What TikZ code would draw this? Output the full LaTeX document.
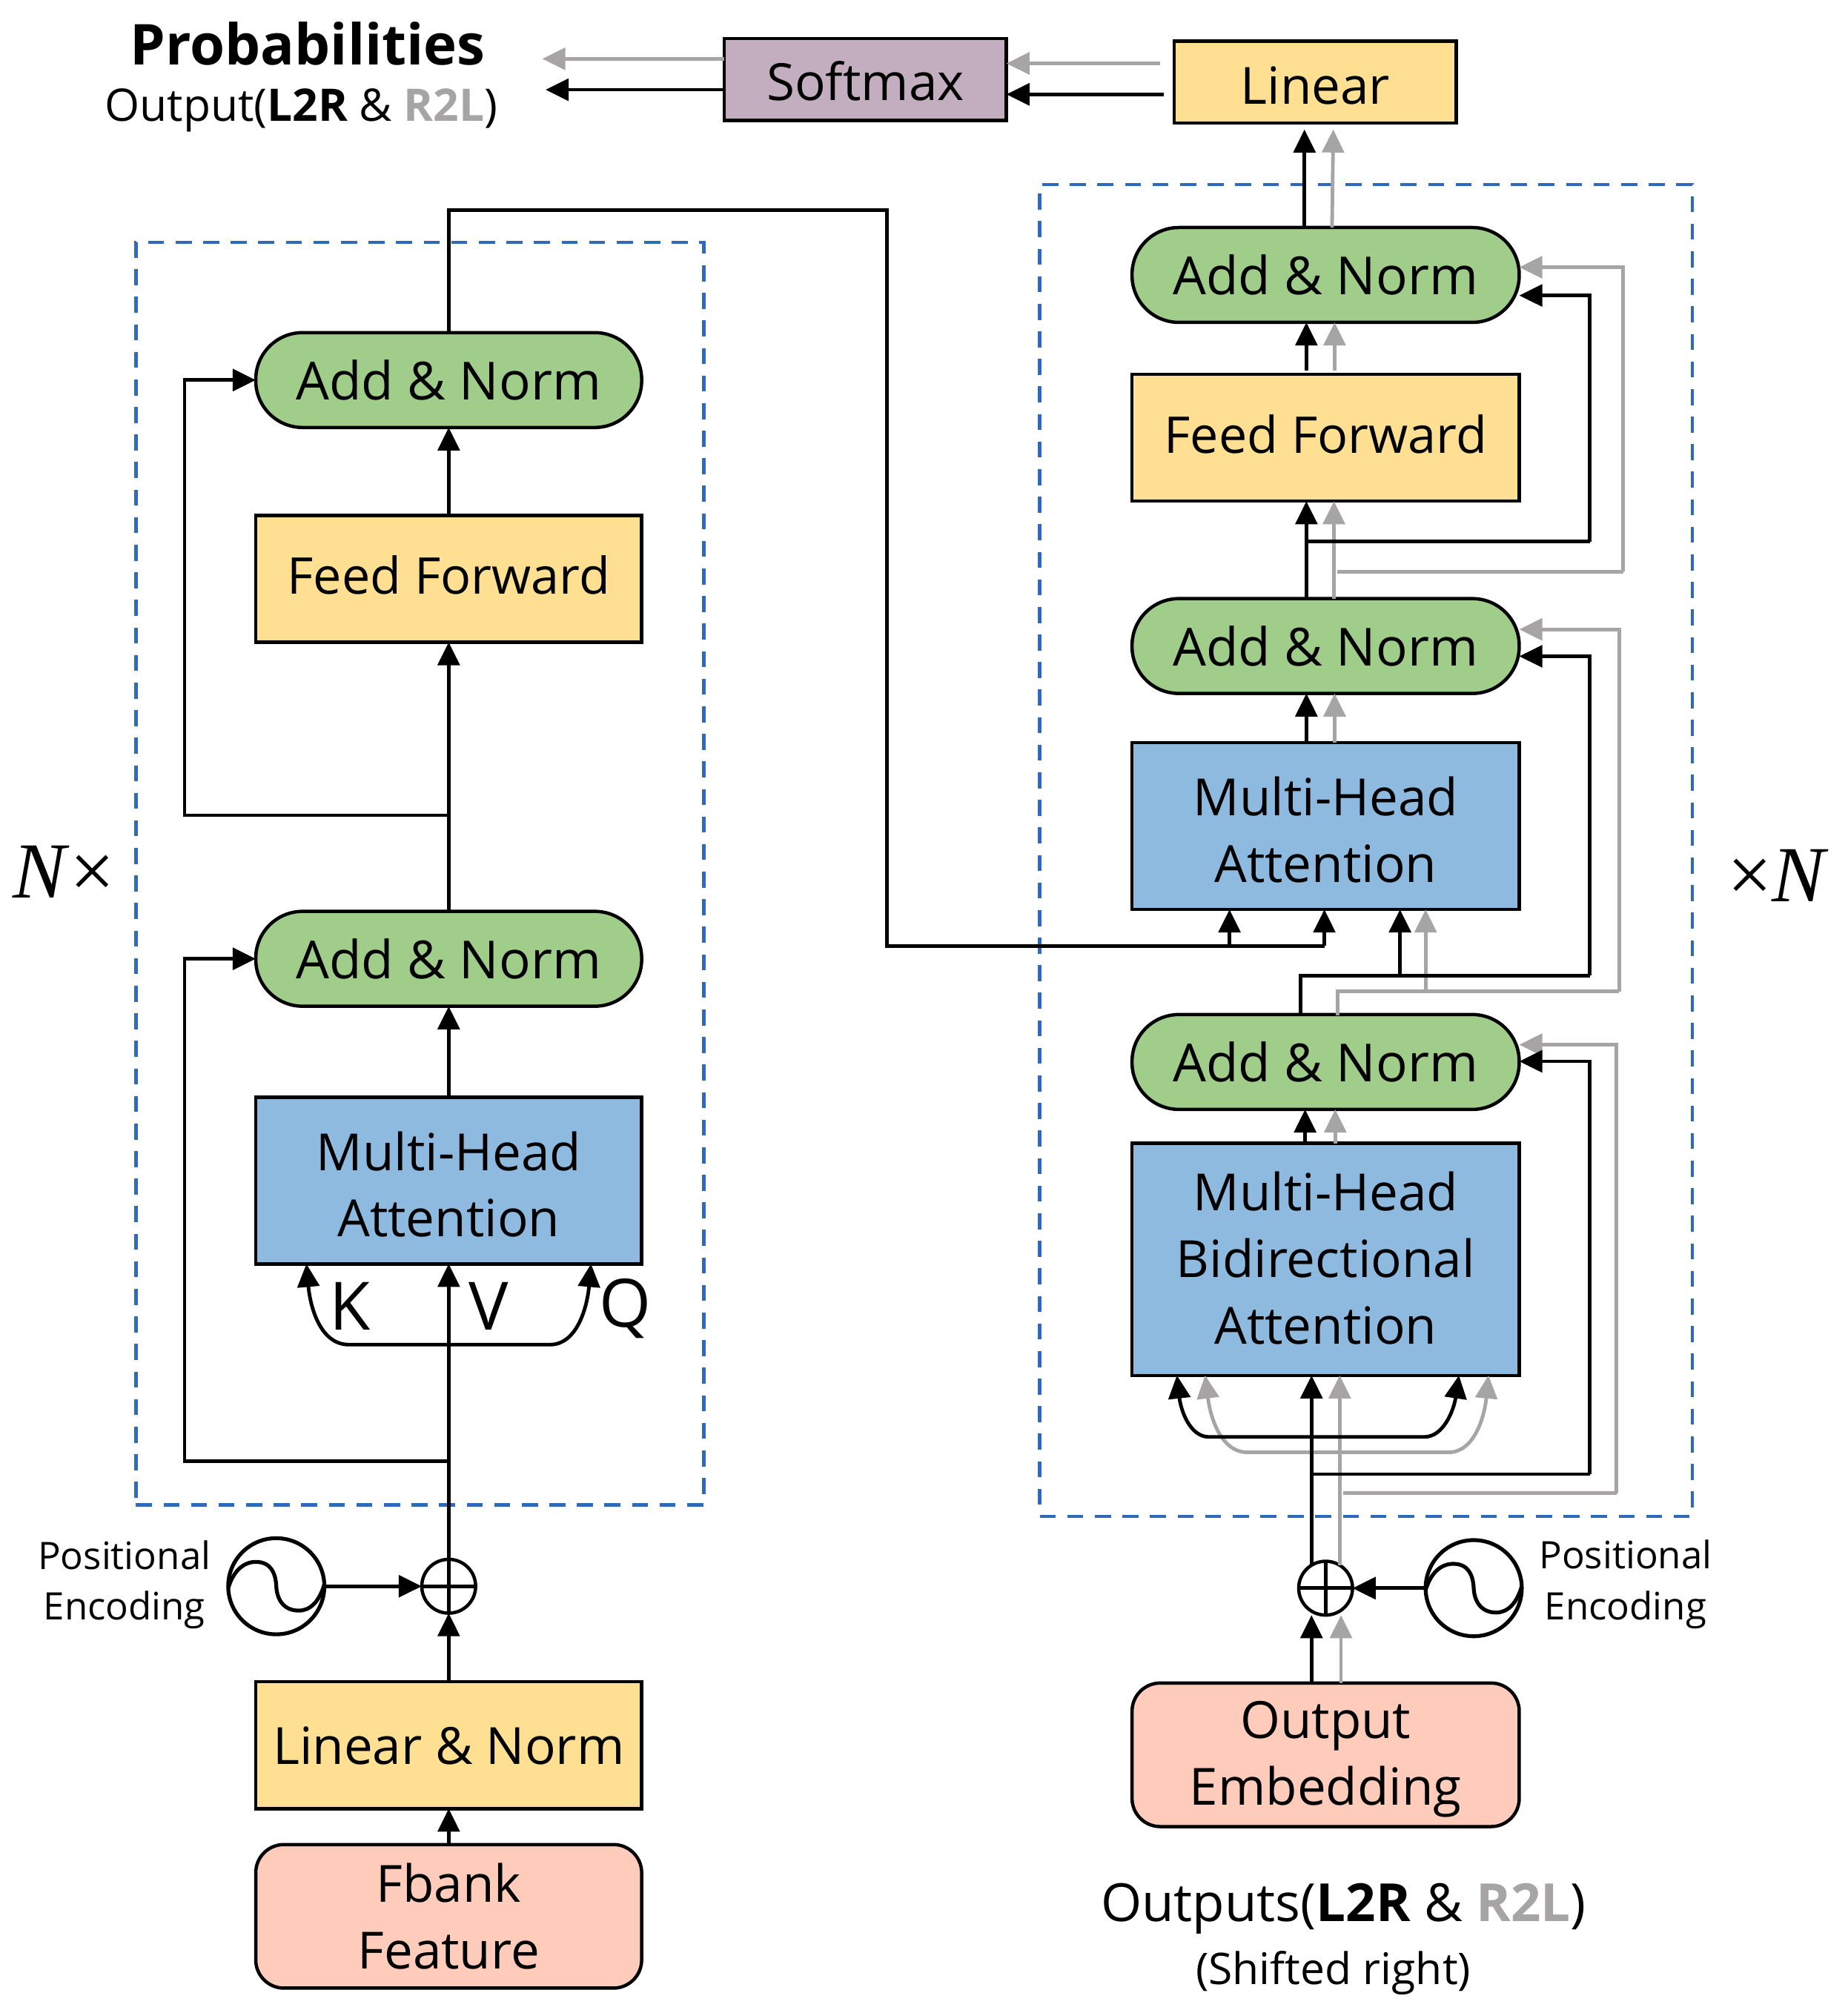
\documentclass[tikz,border=0pt]{standalone}
\usepackage{fontspec}
\setmainfont{Open Sans}
\newfontfamily\mathish{Liberation Serif}
\usetikzlibrary{arrows.meta,calc,shapes.misc}
\definecolor{cgreen}{HTML}{A0CD8A}
\definecolor{cyellow}{HTML}{FFE093}
\definecolor{cblue}{HTML}{8EBAE0}
\definecolor{cpink}{HTML}{FFCCBB}
\definecolor{cpurple}{HTML}{C3AEC0}
\definecolor{cgray}{HTML}{A6A4A4}
\definecolor{cdash}{HTML}{2F69BB}
\tikzset{
  tipb/.tip={Triangle[length=18pt,width=17pt]},
  box/.style={draw=black,line width=2.6pt,inner sep=0pt,outer sep=0pt,align=center,
    font=\fontsize{40}{52}\selectfont,text=black},
  wide/.style={box,minimum width=301pt},
  addnorm/.style={wide,fill=cgreen,minimum height=74pt,rounded corners=36.5pt,font=\fontsize{41}{52}\selectfont,text height=31pt,text depth=0pt},
  ffbox/.style={wide,fill=cyellow,minimum height=99pt,font=\fontsize{39.5}{52}\selectfont,text height=30pt,text depth=6pt},
  mhbox/.style={wide,fill=cblue},
  embox/.style={wide,fill=cpink,minimum height=112pt,rounded corners=22pt},
  dashbox/.style={draw=cdash,line width=2.6pt,dash pattern=on 12.5pt off 9pt,inner sep=0pt,outer sep=0pt},
  bl/.style={draw=black,line width=2.8pt},
  gl/.style={draw=cgray,line width=2.8pt},
  ba/.style={bl,-tipb},
  ga/.style={gl,-tipb},
  bb/.style={bl,tipb-tipb},
  gb/.style={gl,tipb-tipb},
  plusc/.style={draw=black,line width=2.6pt,circle,minimum size=42pt,inner sep=0pt,outer sep=0pt},
  sinec/.style={draw=black,line width=3pt,circle,minimum size=75pt,inner sep=0pt,outer sep=0pt},
  lab/.style={inner sep=0pt,outer sep=0pt,align=center,text=black},
  sinewave/.pic={\draw[line width=3pt,black] (-37.5,1.5) .. controls (-33.5,-12) and (-25.5,-19) .. (-16,-19)
     .. controls (-4,-19) and (-0.5,-10) .. (0,0)
     .. controls (0.5,10) and (5.5,19) .. (17.5,19)
     .. controls (26.5,19) and (33.5,12) .. (37.5,-1.5);}
}
\begin{document}
\begin{tikzpicture}[x=1pt,y=-1pt]
\useasboundingbox (0,0) rectangle (1441,1568.1);
% dashed frames
\node[dashbox,minimum width=443pt,minimum height=985pt] (encframe) at (327.5,681.5) {};
\node[dashbox,minimum width=509pt,minimum height=1039pt] (decframe) at (1065.5,663.5) {};
% encoder
\node[addnorm] (ea2) at (350,296.5) {Add \& Norm};
\node[ffbox] (eff) at (350,451.5) {Feed Forward};
\node[addnorm] (ea1) at (350,748) {Add \& Norm};
\node[mhbox,minimum height=130pt,text height=88.4pt] (emh) at (350,921) {Multi-Head\\Attention};
\node[ffbox,font=\fontsize{40}{52}\selectfont,text height=30pt,text depth=0pt] (eln) at (350,1361.5) {Linear \& Norm};
\node[embox] (efb) at (350,1495) {Fbank\\Feature};
\node[plusc] (eplus) at (350,1237.5) {};
\node[sinec] (esin) at (215.5,1237.5) {};
\pic at (esin.center) {sinewave};
% decoder
\tikzset{wide/.append style={minimum width=302pt}}
\node[addnorm] (da3) at (1034,214.5) {Add \& Norm};
\node[ffbox] (dff) at (1034,341.5) {Feed Forward};
\node[addnorm] (da2) at (1034,504) {Add \& Norm};
\node[mhbox,minimum height=130pt,text height=88.4pt] (dmh) at (1034,644.5) {Multi-Head\\Attention};
\node[addnorm] (da1) at (1034,828.5) {Add \& Norm};
\node[mhbox,minimum height=181pt,text height=132.4pt] (dmb) at (1034,982.5) {Multi-Head\\Bidirectional\\Attention};
\node[embox,text height=88.4pt] (doe) at (1034,1369) {Output\\Embedding};
\node[plusc] (dplus) at (1034,1239) {};
\node[sinec] (dsin) at (1149.5,1239) {};
\pic at (dsin.center) {sinewave};
% top boxes
\node[box,fill=cyellow,minimum width=220pt,minimum height=64pt,text height=34.6pt,text depth=0pt] (lin) at (1026,64) {Linear};
\node[box,fill=cpurple,minimum width=220pt,minimum height=64pt,text height=33pt,text depth=0pt] (sft) at (675,62) {Softmax};
% labels
\node[lab,font=\fontsize{44}{50}\selectfont\bfseries] (tprob) at (240,34) {Probabilities};
\node[lab,font=\fontsize{35}{40}\selectfont] (tout) at (235,86) {Output(\textbf{L2R} \& \textcolor{cgray}{\textbf{R2L}})};
\node[lab,font=\fontsize{41}{44}\selectfont] (tdout) at (1048,1489) {Outputs(\textbf{L2R} \& \textcolor{cgray}{\textbf{R2L}})};
\node[lab,font=\fontsize{34}{40}\selectfont] (tshift) at (1040,1539) {(Shifted right)};
\node[lab,font=\fontsize{29.5}{39.5}\selectfont] (tpl) at (97,1236.5) {Positional\\Encoding};
\node[lab,font=\fontsize{29.5}{39.5}\selectfont] (tpr) at (1268,1236) {Positional\\Encoding};
\node[lab,font=\fontsize{52}{52}\selectfont] (tk) at (273,1019) {K};
\node[lab,font=\fontsize{52}{52}\selectfont] (tv) at (381,1019) {V};
\node[lab,font=\fontsize{52}{52}\selectfont] (tq) at (488,1021) {Q};
\node[lab,font=\fontsize{62}{62}\selectfont\mathish] (tnl) at (50,680) {\textit{N}×};
\node[lab,font=\fontsize{62}{62}\selectfont\mathish] (tnr) at (1387,683) {×\textit{N}};
% junctions
\coordinate (ejk) at (350,1140);
\coordinate (ejl) at (144,1140);
\coordinate (ejm) at (350,636);
\coordinate (ejn) at (144,636);
% encoder connectors
\draw[ba] (efb.north) -- (eln.south);
\draw[ba] (eln.north) -- (eplus.south);
\draw[ba] (esin.east) -- (eplus.west);
\draw[ba] (eplus.north) -- (emh.south);
\draw[bl] (eplus.north) -- (eplus.south);
\draw[bl] (eplus.west) -- (eplus.east);
\draw[ba] (emh.north) -- (ea1.south);
\draw[ba] (ea1.north) -- (eff.south);
\draw[ba] (eff.north) -- (ea2.south);
\draw[ba] (ejk) -- (ejl) |- (ea1.west);
\draw[ba] (ejm) -- (ejn) |- (ea2.west);
\coordinate (eq) at (350,1049);
\draw[bb] ([xshift=-111pt]emh.south) .. controls (242,1020) and (250,1049) .. (272,1049)
  -- (eq) -- (429,1049) .. controls (450,1049) and (458,1020) .. ([xshift=111pt]emh.south);
% cross connector
\coordinate (xa) at (350,164);
\coordinate (xb) at (692,164);
\coordinate (xc) at (692,738);
\coordinate (xd) at (1033,738);
\coordinate (xe) at (959,738);
\draw[bl] (ea2.north) -- (xa) -- (xb) -- (xc) -- (xd);
\draw[ba] (xd) -- (xd |- dmh.south);
\draw[ba] (xe) -- (xe |- dmh.south);
% decoder gray connectors
\coordinate (g1) at (1047.5,1165);
\coordinate (g1r) at (1261,1165);
\draw[gl] (g1) -- (g1r);
\draw[ga] (g1r) |- ([yshift=13.5pt]da1.east);
\draw[ga] ([xshift=12pt]doe.north) -- ([xshift=12pt]dplus.south);
\draw[ga] ([xshift=11pt,yshift=-3pt]dplus.north) -- ([xshift=11pt]dmb.south);
\draw[gb] ([xshift=-94pt]dmb.south) .. controls (944,1105) and (952,1133) .. (973,1133)
  -- (1130,1133) .. controls (1150,1133) and (1158,1105) .. ([xshift=127pt]dmb.south);
\draw[ga] ([xshift=7.5pt]dmb.north) -- ([xshift=7.5pt]da1.south);
\coordinate (g2) at (1043.5,792);
\coordinate (g2a) at (1043.5,773.5);
\coordinate (g2b) at (1263,773.5);
\coordinate (g2c) at (1112,773.5);
\draw[gl] (g2) -- (g2a) -- (g2b);
\draw[ga] (g2b) |- ([yshift=13pt]da2.east);
\draw[ga] (g2c) -- (g2c |- dmh.south);
\draw[ga] ([xshift=7pt]dmh.north) -- ([xshift=7pt]da2.south);
\coordinate (g3) at (1043,446);
\coordinate (g3r) at (1266,446);
\draw[gl] (g3) -- (g3r);
\draw[ga] (g3r) |- ([yshift=6pt]da3.east);
\draw[ga] ([xshift=6.5pt]da2.north) -- ([xshift=6.5pt]dff.south);
\draw[ga] ([xshift=7pt,yshift=3pt]dff.north) -- ([xshift=7pt]da3.south);
\draw[ga] ([xshift=5pt]da3.north) -- ([xshift=14pt,yshift=-5pt]lin.south);
\draw[ga] (905,49.5) -- (sft.east |- 0,49.5);
\draw[ga] (sft.west |- 0,45.9) -- (423,45.9);
% decoder black connectors
\coordinate (b1) at (1023,1150);
\coordinate (b1r) at (1240,1150);
\draw[bl] (b1) -- (b1r);
\draw[ba] (b1r) |- ([yshift=0.5pt]da1.east);
\draw[ba] ([xshift=-11pt]doe.north) -- ([xshift=-11pt]dplus.south);
\draw[ba] ([xshift=-11pt,yshift=-3pt]dplus.north) -- ([xshift=-11pt]dmb.south);
\draw[bb] ([xshift=-116pt]dmb.south) .. controls (921,1100) and (928,1121) .. (943,1121)
  -- (1111,1121) .. controls (1126,1121) and (1134,1100) .. ([xshift=104pt]dmb.south);
\draw[ba] ([xshift=-16pt]dmb.north) -- ([xshift=-16pt]da1.south);
\coordinate (b2) at (1014.5,792);
\coordinate (b2a) at (1014.5,761);
\coordinate (b2b) at (1240,761);
\coordinate (b2c) at (1092,761);
\draw[bl] (b2) -- (b2a) -- (b2b);
\draw[ba] (b2b) |- ([yshift=-8pt]da2.east);
\draw[ba] (b2c) -- (b2c |- dmh.south);
\draw[ba] ([xshift=-15pt]dmh.north) -- ([xshift=-15pt]da2.south);
\coordinate (b3) at (1019,422.5);
\coordinate (b3r) at (1240,422.5);
\draw[bl] (b3) -- (b3r);
\draw[ba] (b3r) |- ([yshift=-16pt]da3.east);
\draw[ba] ([xshift=-15pt]da2.north) -- ([xshift=-15pt]dff.south);
\draw[ba] ([xshift=-15pt,yshift=3pt]dff.north) -- ([xshift=-15pt]da3.south);
\draw[ba] ([xshift=-16.5pt]da3.north) -- ([xshift=-8.5pt,yshift=-5pt]lin.south);
\draw[ba] (908,73.6) -- (sft.east |- 0,73.6);
\draw[ba] (sft.west |- 0,70) -- (425.5,70);
\draw[ba] (dsin.west) -- (dplus.east);
\draw[bl] (dplus.north) -- (dplus.south);
\draw[bl] (dplus.west) -- (dplus.east);
\end{tikzpicture}
\end{document}
